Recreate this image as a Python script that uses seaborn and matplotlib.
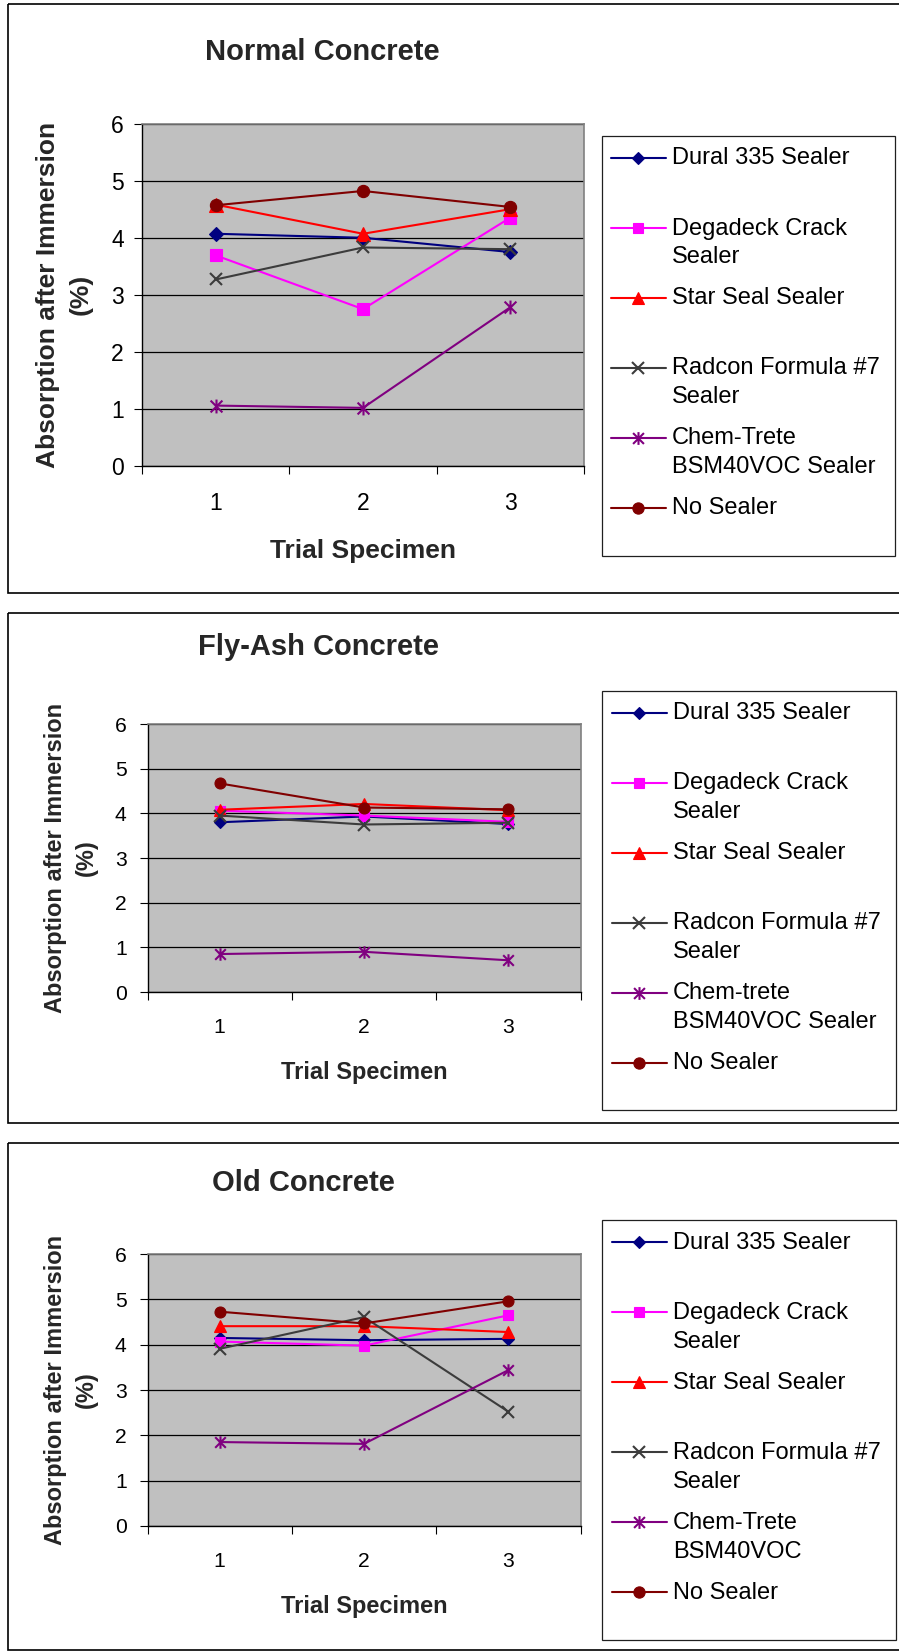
import numpy as np
import pandas as pd
import matplotlib
matplotlib.use("Agg")
import matplotlib.pyplot as plt
from matplotlib.path import Path
from matplotlib.patches import Rectangle
from matplotlib.ticker import FixedLocator, NullFormatter, FixedFormatter
import seaborn as sns

# ---------------- data ----------------
trials = [1, 2, 3]
sealers = ["Dural 335 Sealer", "Degadeck Crack Sealer", "Star Seal Sealer",
           "Radcon Formula #7 Sealer", "Chem-Trete BSM40VOC Sealer", "No Sealer"]

normal_dural = [4.07, 4.00, 3.75]
normal_degadeck = [3.69, 2.75, 4.35]
normal_starseal = [4.58, 4.07, 4.50]
normal_radcon = [3.27, 3.83, 3.80]
normal_chemtrete = [1.06, 1.02, 2.78]
normal_none = [4.57, 4.82, 4.54]

flyash_dural = [3.80, 3.93, 3.76]
flyash_degadeck = [4.06, 3.95, 3.81]
flyash_starseal = [4.08, 4.21, 4.07]
flyash_radcon = [3.95, 3.75, 3.79]
flyash_chemtrete = [0.85, 0.90, 0.71]
flyash_none = [4.67, 4.13, 4.09]

old_dural = [4.15, 4.10, 4.13]
old_degadeck = [4.07, 3.98, 4.65]
old_starseal = [4.41, 4.41, 4.28]
old_radcon = [3.91, 4.61, 2.52]
old_chemtrete = [1.85, 1.81, 3.44]
old_none = [4.73, 4.47, 4.96]

titles = ["Normal Concrete", "Fly-Ash Concrete", "Old Concrete"]
legend_labels_normal = ["Dural 335 Sealer", "Degadeck Crack\nSealer", "Star Seal Sealer",
                        "Radcon Formula #7\nSealer", "Chem-Trete\nBSM40VOC Sealer", "No Sealer"]
legend_labels_flyash = ["Dural 335 Sealer", "Degadeck Crack\nSealer", "Star Seal Sealer",
                        "Radcon Formula #7\nSealer", "Chem-trete\nBSM40VOC Sealer", "No Sealer"]
legend_labels_old = ["Dural 335 Sealer", "Degadeck Crack\nSealer", "Star Seal Sealer",
                     "Radcon Formula #7\nSealer", "Chem-Trete\nBSM40VOC", "No Sealer"]
y_ticks = [0, 1, 2, 3, 4, 5, 6]
x_label = "Trial Specimen"
y_label = "Absorption after Immersion\n(%)"

frames = []
for name, series in [
    ("normal", [normal_dural, normal_degadeck, normal_starseal, normal_radcon, normal_chemtrete, normal_none]),
    ("flyash", [flyash_dural, flyash_degadeck, flyash_starseal, flyash_radcon, flyash_chemtrete, flyash_none]),
    ("old", [old_dural, old_degadeck, old_starseal, old_radcon, old_chemtrete, old_none]),
]:
    for s, vals in zip(sealers, series):
        frames.append(pd.DataFrame({"concrete": name, "sealer": s, "trial": trials, "absorption": vals}))
df = pd.concat(frames, ignore_index=True)

# ---------------- styling ----------------
sns.set_theme(style="white")
plt.rcParams["font.family"] = ["Liberation Sans", "DejaVu Sans"]

asterisk = Path([(0, -1), (0, 1), (-0.85, -0.85), (0.85, 0.85), (-0.85, 0.85), (0.85, -0.85)],
                [Path.MOVETO, Path.LINETO, Path.MOVETO, Path.LINETO, Path.MOVETO, Path.LINETO])

style = {
    "Dural 335 Sealer": dict(color="#000080", marker="D", ms=7.0),
    "Degadeck Crack Sealer": dict(color="#FF00FF", marker="s", ms=8.4),
    "Star Seal Sealer": dict(color="#FF0000", marker="^", ms=9.8),
    "Radcon Formula #7 Sealer": dict(color="#3C3C3C", marker="x", ms=9.2),
    "Chem-Trete BSM40VOC Sealer": dict(color="#800080", marker=asterisk, ms=10.0),
    "No Sealer": dict(color="#800000", marker="o", ms=8.8),
}
thin_markers = ("x",)

W, H = 899, 1652
fig = plt.figure(figsize=(W / 100, H / 100), dpi=100)
fig.patch.set_facecolor("white")

# page-level layer for panel frames and legend boxes (pixel coordinates)
bg = fig.add_axes([0, 0, 1, 1])
bg.set_xlim(0, W)
bg.set_ylim(H, 0)
bg.axis("off")

panels = [
    dict(key="normal", frame=(7.5, 4, 592.5), axes=(142.4, 123.6, 583.6, 466.1),
         title_xy=(322, 52), label_fs=19, tick_fs=16.5, ylab_x=64, xlab_dy=85,
         legend=(601.7, 136, 894.7, 556), legend_labels=legend_labels_normal, mscale=1.0, ypad=7.5),
    dict(key="flyash", frame=(7.5, 612.5, 1122.7), axes=(147.5, 724.0, 580.6, 992.0),
         title_xy=(318, 647), label_fs=17, tick_fs=15.2, ylab_x=70.8, xlab_dy=81,
         legend=(602.3, 690.7, 895.7, 1110), legend_labels=legend_labels_flyash, mscale=0.9, ypad=9.0),
    dict(key="old", frame=(7.5, 1142.7, 1649.5), axes=(147.5, 1254.2, 580.6, 1525.8),
         title_xy=(303, 1183), label_fs=17, tick_fs=15.2, ylab_x=70.8, xlab_dy=81,
         legend=(602.3, 1220.3, 896.3, 1639.7), legend_labels=legend_labels_old, mscale=0.9, ypad=9.0),
]

for i, p in enumerate(panels):
    # outer chart frame
    fx0, fy0, fy1 = p["frame"]
    bg.add_patch(Rectangle((fx0, fy0), 910 - fx0, fy1 - fy0, fill=False, ec="black", lw=1.2))

    l, t, r, b = p["axes"]
    ax = fig.add_axes([l / W, 1 - b / H, (r - l) / W, (b - t) / H])
    ax.set_facecolor("#C0C0C0")
    ax.set_axisbelow(True)

    sub = df[df["concrete"] == p["key"]]
    for s in sealers:
        st = style[s]
        d = sub[sub["sealer"] == s]
        ms = st["ms"] * p["mscale"]
        thin = st["marker"] in thin_markers or st["marker"] is asterisk
        sns.lineplot(data=d, x="trial", y="absorption", ax=ax, color=st["color"],
                     marker=st["marker"], markersize=ms, markerfacecolor=st["color"],
                     markeredgecolor=st["color"], markeredgewidth=1.5 if thin else 0.8,
                     linewidth=1.5, legend=False, zorder=3)

    ax.set_xlim(0.5, 3.5)
    ax.set_ylim(0, 6)
    ax.set_yticks(y_ticks)
    ax.set_yticklabels([str(v) for v in y_ticks], fontsize=p["tick_fs"])
    ax.yaxis.grid(True, color="black", lw=0.9)
    ax.xaxis.grid(False)
    ax.tick_params(axis="y", which="major", left=True, length=6, width=0.8, color="black",
                   labelsize=p["tick_fs"], pad=p["ypad"], labelcolor="black")
    # category boundaries carry the tick marks; labels sit at the centres
    ax.xaxis.set_major_locator(FixedLocator([0.5, 1.5, 2.5, 3.5]))
    ax.xaxis.set_major_formatter(NullFormatter())
    ax.xaxis.set_minor_locator(FixedLocator(trials))
    ax.xaxis.set_minor_formatter(FixedFormatter([str(v) for v in trials]))
    ax.tick_params(axis="x", which="major", bottom=True, length=6, width=0.8, color="black")
    ax.tick_params(axis="x", which="minor", bottom=True, length=0, labelsize=p["tick_fs"],
                   pad=19, labelcolor="black")

    for side in ["left", "bottom"]:
        ax.spines[side].set_color("black")
        ax.spines[side].set_linewidth(1.0)
    for side in ["top", "right"]:
        ax.spines[side].set_color("#808080")
        ax.spines[side].set_linewidth(1.2)

    ax.set_xlabel(x_label, fontsize=p["label_fs"], fontweight="bold", va="center")
    ax.xaxis.set_label_coords(0.5, -p["xlab_dy"] / (b - t))
    ax.set_ylabel(y_label, fontsize=p["label_fs"], fontweight="bold", va="center", ha="center",
                  linespacing=1.45)
    ax.yaxis.set_label_coords((p["ylab_x"] - l) / (r - l), 0.5)

    tx, ty = p["title_xy"]
    fig.text(tx / W, 1 - ty / H, titles[i], fontsize=21, fontweight="bold", ha="center", va="center")

    # legend box
    lx0, ly0, lx1, ly1 = p["legend"]
    bg.add_patch(Rectangle((lx0, ly0), lx1 - lx0, ly1 - ly0, fill=False, ec="#202020", lw=0.9))
    for k, (s, lab) in enumerate(zip(sealers, p["legend_labels"])):
        st = style[s]
        yy = ly0 + 21.8 + 70 * k
        hx0 = lx0 + 9.5
        thin = st["marker"] in thin_markers or st["marker"] is asterisk
        bg.plot([hx0, hx0 + 55], [yy, yy], color=st["color"], lw=1.5)
        bg.plot([hx0 + 27], [yy], color=st["color"], marker=st["marker"], ms=st["ms"] * 0.92,
                mfc=st["color"], mec=st["color"], mew=1.5 if thin else 0.8)
        for j, line in enumerate(lab.split("\n")):
            bg.text(lx0 + 70.5, yy + 6.7 + 28.7 * j, line, fontsize=17, ha="left", va="baseline",
                    color="black")

fig.savefig("out.png", dpi=100, facecolor="white")
